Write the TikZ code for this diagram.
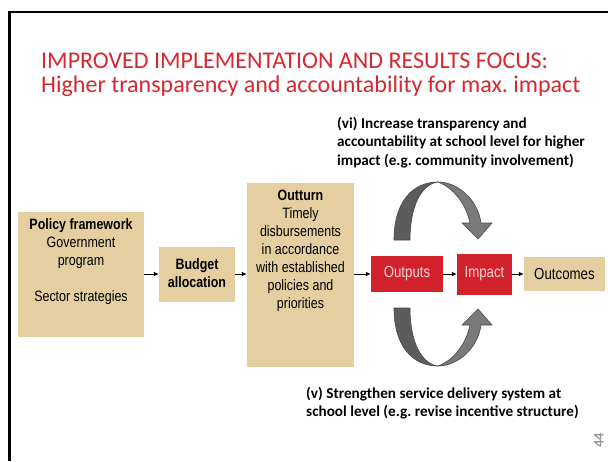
\documentclass[tikz,border=0pt]{standalone}
\usepackage{fontspec}
\setmainfont{Carlito}
\newfontfamily\narrow[FakeStretch=0.83]{Liberation Sans}
\usetikzlibrary{arrows.meta}
\frenchspacing
\definecolor{titlered}{RGB}{214,40,48}
\definecolor{boxred}{RGB}{209,34,44}
\definecolor{papyrus}{RGB}{229,207,160}
\definecolor{arcdark}{RGB}{92,92,92}
\definecolor{arclight}{RGB}{122,122,122}
\definecolor{arcline}{RGB}{70,70,70}
\definecolor{pagegray}{RGB}{150,150,150}
\definecolor{pinktext}{RGB}{246,214,214}
\tikzset{
  paperbox/.style={draw=none, fill=papyrus, inner sep=0pt},
  redbox/.style={draw=none, fill=boxred, inner sep=0pt, text=pinktext,
    font=\narrow\fontsize{16}{19}\selectfont},
  boxtext/.style={inner sep=0pt, align=center, font=\narrow\fontsize{15}{18}\selectfont},
  conn/.style={draw=black, line width=0.8pt, -{Latex[length=5pt,width=4.5pt]}},
  note/.style={inner sep=0pt, align=left, font=\bfseries\fontsize{15.2}{18.3}\selectfont},
  pics/curvearrow/.style={code={
    \path[fill=arcdark, draw=arcline, line width=0.6pt]
      (-44,0) .. controls (-44,-40) and (-24,-58) .. (0,-58)
      .. controls (-16,-56) and (-28,-35) .. (-28,0) -- cycle;
    \path[fill=arclight, draw=arcline, line width=0.6pt]
      (0,-58) .. controls (20,-58) and (40,-40) .. (43,-17)
      -- (54,-17) -- (40,-1) -- (24,-17) -- (32,-17)
      .. controls (28,-36) and (16,-52) .. (0,-58) -- cycle;
  }}
}
\begin{document}
\begin{tikzpicture}[x=1pt,y=-1pt]
\useasboundingbox (0,0) rectangle (608,461);
\fill[white] (0,0) rectangle (608,461);
% frame
\draw[line width=2.6pt, black] (9.3,461) -- (9.3,12) -- (608,12);
% title
\node[anchor=north west, inner sep=0pt, align=left, text=titlered,
  font=\fontsize{24}{24}\selectfont] (title) at (41,53)
  {IMPROVED IMPLEMENTATION AND RESULTS FOCUS:\\Higher transparency and accountability for max. impact};
% boxes
\node[paperbox, minimum width=126, minimum height=125] (policy) at (81,274) {};
\node[paperbox, minimum width=76, minimum height=55] (budget) at (197,274) {};
\node[paperbox, minimum width=107, minimum height=184] (outturn) at (300.5,275) {};
\node[redbox, minimum width=72, minimum height=36] (outputs) at (407,274) {Outputs};
\node[redbox, minimum width=55, minimum height=41] (impact) at (484.5,274) {Impact};
\node[paperbox, minimum width=81, minimum height=34, font=\narrow\fontsize{16}{19}\selectfont] (outcomes) at (564.5,274) {Outcomes};
% box texts
\node[boxtext] (policytxt) at (81,262)
  {\bfseries Policy framework\\Government\\program\\[18pt]Sector strategies};
\node[boxtext] (budgettxt) at (197,273)
  {\bfseries Budget\\\bfseries allocation};
\node[boxtext] (outturntxt) at (300.5,251)
  {\bfseries Outturn\\Timely\\disbursements\\in accordance\\with established\\policies and\\priorities};
% connectors
\draw[conn] (policy) -- (budget);
\draw[conn] (budget) -- (outturn.west |- budget);
\draw[conn] (outturn.east |- outputs) -- (outputs);
\draw[conn] (outputs) -- (impact);
\draw[conn] (impact) -- (outcomes);
% curved arrows
\pic at (438,240) {curvearrow};
\pic[yscale=-1] at (438,308) {curvearrow};
% notes
\node[note, anchor=north west] (vi) at (337,117)
  {(vi) Increase transparency and\\accountability at school level for higher\\impact (e.g. community involvement)};
\node[note, anchor=north west] (v) at (306,387)
  {(v) Strengthen service delivery system at\\school level (e.g. revise incentive structure)};
% page number
\node[rotate=90, inner sep=0pt, text=pagegray, font=\bfseries\fontsize{14.5}{14.5}\selectfont] (pageno) at (599,440) {44};
\end{tikzpicture}
\end{document}
